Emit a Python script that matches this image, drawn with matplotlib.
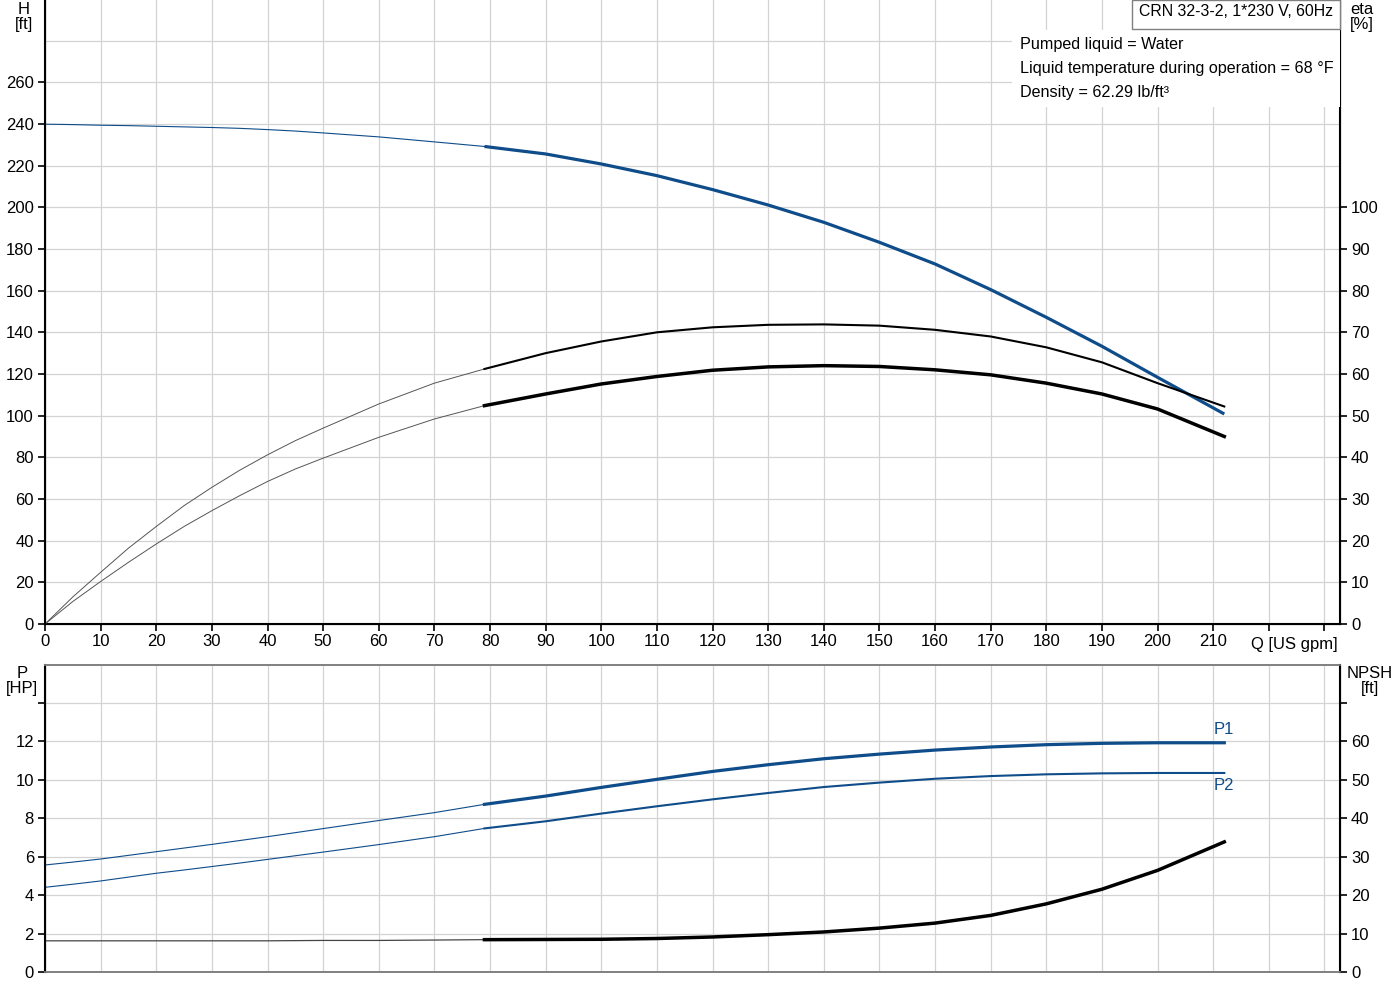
import matplotlib
matplotlib.use("Agg")
import matplotlib.pyplot as plt
from matplotlib.patches import Rectangle

plt.rcParams['font.family'] = ['Liberation Sans', 'DejaVu Sans']
plt.rcParams['font.size'] = 12

# flow points [US gpm]; index 13 (79 gpm) is where the thin part ends
q = [0, 5, 10, 15, 20, 25, 30, 35, 40, 45, 50, 60, 70, 79, 90, 100, 110, 120, 130, 140, 150, 160,
     170, 180, 190, 200, 212]
head = [239.9, 239.7, 239.4, 239.2, 238.9, 238.6, 238.3, 237.9, 237.3, 236.6, 235.7, 233.8, 231.4,
        229.2, 225.6, 220.8, 215.2, 208.5, 201.1, 192.8, 183.2, 172.8, 160.5, 147.2, 133.3, 118.4,
        100.8]
eta_pump = [0, 6.5, 12.4, 18.2, 23.4, 28.4, 32.8, 36.9, 40.6, 44.0, 47.0, 52.8, 57.8, 61.2, 65.0,
            67.8, 70.0, 71.2, 71.8, 71.9, 71.6, 70.6, 69.0, 66.4, 62.8, 57.8, 52.2]
eta_total = [0, 5.4, 10.2, 14.8, 19.2, 23.4, 27.2, 30.8, 34.2, 37.2, 39.8, 44.8, 49.2, 52.4, 55.2,
             57.6, 59.4, 60.9, 61.7, 62.0, 61.8, 61.0, 59.8, 57.8, 55.2, 51.6, 45.0]
p1 = [5.56, 5.71, 5.87, 6.06, 6.25, 6.44, 6.63, 6.83, 7.03, 7.24, 7.45, 7.87, 8.28, 8.71, 9.14,
      9.59, 10.01, 10.42, 10.77, 11.08, 11.32, 11.53, 11.69, 11.81, 11.88, 11.91, 11.91]
p2 = [4.40, 4.56, 4.73, 4.93, 5.13, 5.30, 5.48, 5.66, 5.85, 6.04, 6.23, 6.62, 7.03, 7.46, 7.83,
      8.23, 8.61, 8.97, 9.30, 9.61, 9.84, 10.04, 10.18, 10.27, 10.32, 10.34, 10.34]
npsh = [8.1, 8.1, 8.1, 8.1, 8.1, 8.1, 8.1, 8.1, 8.1, 8.15, 8.2, 8.2, 8.3, 8.4, 8.45, 8.5, 8.7,
        9.1, 9.7, 10.4, 11.4, 12.7, 14.7, 17.7, 21.5, 26.4, 33.8]
split = 13

xticks_top = list(range(0, 240, 10))
xlabels_top = [str(v) for v in range(0, 220, 10)] + ['', '']

blue = '#0f4c8a'
grid_c = '#d3d3d3'
W, H = 1400, 1000

fig = plt.figure(figsize=(14, 10), dpi=100)
ax = fig.add_axes([45 / W, 1 - 624 / H, 1295 / W, 624 / H])
ax2 = ax.twinx()
axb = fig.add_axes([45 / W, 1 - 972 / H, 1295 / W, 307 / H])
axb2 = axb.twinx()

xmax = 232.8
for a in (ax, axb):
    a.set_xlim(0, xmax)
    a.set_xticks(xticks_top)
    a.grid(True, which='both', color=grid_c, linewidth=0.9)
    a.set_axisbelow(True)

# top panel
ax.set_ylim(0, 299.5)
ax2.set_ylim(0, 299.5 / 2)
ax.set_yticks(range(0, 280, 20))
ax.set_yticks([280], minor=True)
ax.tick_params(axis='y', which='major', direction='out', length=5, width=1.2, pad=3)
ax.tick_params(axis='y', which='minor', length=0)
ax.set_xticklabels(xlabels_top)
ax.tick_params(axis='x', direction='out', length=5, width=1.2, pad=2)
ax2.set_yticks(range(0, 110, 10))
ax2.tick_params(axis='y', direction='out', length=5, width=1.2, pad=3)
ax.spines['top'].set_visible(False)
ax2.spines['top'].set_visible(False)
for s in ('left', 'bottom'):
    ax.spines[s].set_linewidth(1.5)
ax2.spines['right'].set_linewidth(1.5)

ax.text(224.5, -6.0, 'Q [US gpm]', ha='center', va='top')

ax.plot(q[:split + 1], head[:split + 1], color=blue, lw=0.8)
ax.plot(q[split:], head[split:], color=blue, lw=2.3, solid_capstyle='butt')
ax2.plot(q[:split + 1], eta_pump[:split + 1], color='#555555', lw=0.7)
ax2.plot(q[split:], eta_pump[split:], color='black', lw=1.5)
ax2.plot(q[:split + 1], eta_total[:split + 1], color='#555555', lw=0.7)
ax2.plot(q[split:], eta_total[split:], color='black', lw=2.5)

# bottom panel
axb.set_ylim(0, 15.95)
axb2.set_ylim(0, 15.95 * 5)
axb.set_yticks(range(0, 16, 2))
axb.set_yticklabels([str(v) for v in range(0, 14, 2)] + [''])
axb.tick_params(axis='y', direction='out', length=5, width=1.2, pad=3)
axb.tick_params(axis='x', length=0, labelbottom=False)
axb2.set_yticks(range(0, 80, 10))
axb2.set_yticklabels([str(v) for v in range(0, 70, 10)] + [''])
axb2.tick_params(axis='y', direction='out', length=5, width=1.2, pad=3)
axb.spines['left'].set_linewidth(1.5)
axb2.spines['right'].set_linewidth(1.5)
for s in ('top', 'bottom'):
    axb.spines[s].set_color('#808080')
    axb.spines[s].set_linewidth(1.2)
    axb2.spines[s].set_color('#808080')
    axb2.spines[s].set_linewidth(1.2)

axb.plot(q[:split + 1], p1[:split + 1], color=blue, lw=0.8)
axb.plot(q[split:], p1[split:], color=blue, lw=2.3)
axb.plot(q[:split + 1], p2[:split + 1], color=blue, lw=0.8)
axb.plot(q[split:], p2[split:], color=blue, lw=1.5)
axb2.plot(q[:split + 1], npsh[:split + 1], color='#444444', lw=0.9)
axb2.plot(q[split:], npsh[split:], color='black', lw=2.5)
axb.text(q[-1], p1[-1] + 0.3, 'P1', color=blue, ha='center', va='bottom')
axb.text(q[-1], p2[-1] - 0.25, 'P2', color=blue, ha='center', va='top')

# axis captions
fig.text(24 / W, 1 - 17 / H, 'H\n[ft]', ha='center', va='center', linespacing=1.0)
fig.text(1362 / W, 1 - 17 / H, 'eta\n[%]', ha='center', va='center', linespacing=1.0)
fig.text(22 / W, 1 - 681 / H, 'P\n[HP]', ha='center', va='center', linespacing=1.0)
fig.text(1370 / W, 1 - 681 / H, 'NPSH\n[ft]', ha='center', va='center', linespacing=1.0)

# info boxes
fig.patches.append(Rectangle((1012 / W, 1 - 107 / H), 328 / W, 77 / H, transform=fig.transFigure,
                             facecolor='white', edgecolor='none', zorder=1))
fig.patches.append(Rectangle((1132 / W, 1 - 29 / H), 208 / W, 29.5 / H, transform=fig.transFigure,
                             facecolor='white', edgecolor='#808080', lw=1.0, zorder=1))
fig.text(1236 / W, 1 - 12 / H, 'CRN 32-3-2, 1*230 V, 60Hz', ha='center', va='center', fontsize=11.4)
info = ['Pumped liquid = Water',
        'Liquid temperature during operation = 68 °F',
        'Density = 62.29 lb/ft³']
for i, line in enumerate(info):
    fig.text(1020 / W, 1 - (44 + 24 * i) / H, line, ha='left', va='center', fontsize=11.6)

fig.savefig('out.png', dpi=100)
